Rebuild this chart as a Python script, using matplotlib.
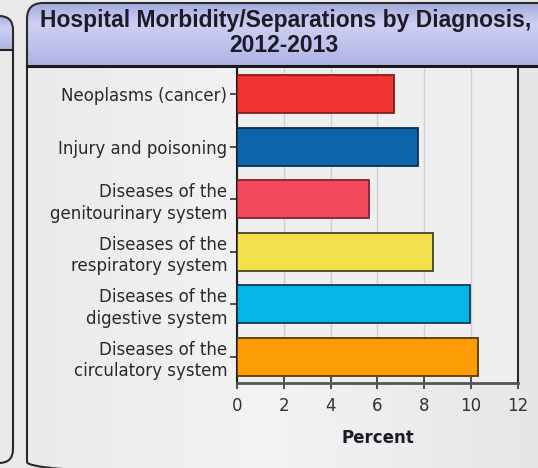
import numpy as np
import matplotlib.pyplot as plt
from matplotlib.colors import LinearSegmentedColormap
from matplotlib.patches import FancyBboxPatch

categories = ['Neoplasms (cancer)', 'Injury and poisoning',
              'Diseases of the\ngenitourinary system',
              'Diseases of the\nrespiratory system',
              'Diseases of the\ndigestive system',
              'Diseases of the\ncirculatory system']
percent = [6.7, 7.75, 5.65, 8.35, 9.95, 10.3]
x_ticks = [0, 2, 4, 6, 8, 10, 12]

bar_colors = ['#f23333', '#0e64a8', '#f2495f', '#f5e04e', '#05b5e6', '#fd9d05']
edge_colors = ['#8a1a1a', '#0a2f55', '#8a2030', '#4a4420', '#0a3a55', '#5a3a08']

W, H = 538, 468
fig = plt.figure(figsize=(W / 100, H / 100), dpi=100)

# background + panels drawn in pixel coordinates
bg = fig.add_axes([0, 0, 1, 1])
bg.set_xlim(0, W)
bg.set_ylim(H, 0)
bg.axis('off')
grad = np.linspace(0, 1, 256)[None, :]
bg_cmap = LinearSegmentedColormap.from_list('g', ['#e9e9e9', '#f3f3f3', '#e6e6e6'])
bg.imshow(grad, extent=[0, W, H, 0], aspect='auto', cmap=bg_cmap, zorder=0)

header_cmap = LinearSegmentedColormap.from_list('h', ['#a3a8dc', '#cdd0f2', '#bfc3ec', '#adb2e3'])
vgrad = np.linspace(0, 1, 256)[:, None]

# left (cut-off) panel
left_panel = FancyBboxPatch((-60, 16), 73, 447, boxstyle='round,pad=0,rounding_size=14',
                            facecolor='none', edgecolor='#2a2a2a', lw=1.5, zorder=3)
bg.add_patch(left_panel)
im = bg.imshow(vgrad, extent=[-60, 13, 50, 16], aspect='auto', cmap=header_cmap, zorder=1)
im.set_clip_path(left_panel)
bg.plot([0, 13], [50, 50], color='#222222', lw=1.5, zorder=3)

# main panel
panel = FancyBboxPatch((27, 3), 560, 475, boxstyle='round,pad=0,rounding_size=16',
                       facecolor='none', edgecolor='#2a2a2a', lw=1.5, zorder=3)
bg.add_patch(panel)
im = bg.imshow(vgrad, extent=[27, 600, 65, 3], aspect='auto', cmap=header_cmap, zorder=1)
im.set_clip_path(panel)
bg.plot([27, W], [66, 66], color='#1a1a1a', lw=2.2, zorder=3)

title_kw = dict(ha='center', va='center', fontsize=16.5, fontweight='bold',
                family='Liberation Sans', color='#1e1a28')
bg.text(286, 20, 'Hospital Morbidity/Separations by Diagnosis,', **title_kw)
bg.text(284, 46, '2012-2013', **title_kw)

# chart
ax = fig.add_axes([237 / W, 1 - 383 / H, 281 / W, 315 / H])
ax.set_facecolor('#efefef')
pos = np.arange(len(categories))
ax.barh(pos, percent, height=0.72, color=bar_colors, edgecolor=edge_colors, lw=1.3, zorder=3)
ax.set_ylim(len(categories) - 0.5, -0.5)
ax.set_xlim(0, 12)
ax.set_xticks(x_ticks)
ax.set_yticks(pos)
ax.set_yticklabels(categories, fontsize=12, color='#2a2a2a', linespacing=1.25)
ax.set_xticklabels([str(t) for t in x_ticks], fontsize=12, color='#333333')
ax.grid(axis='x', color='#cfcfcf', lw=1, zorder=0)
ax.tick_params(axis='y', length=5, width=1.2, color='#333333', pad=2)
ax.tick_params(axis='x', length=8, width=1.2, color='#333333', direction='inout', pad=6)
ax.spines['top'].set_visible(False)
ax.spines['left'].set_color('#1e1e1e')
ax.spines['left'].set_linewidth(1.5)
ax.spines['right'].set_color('#2a2a2a')
ax.spines['right'].set_linewidth(1.5)
ax.spines['bottom'].set_color('#555555')
ax.spines['bottom'].set_linewidth(2)
ax.set_xlabel('Percent', fontsize=12, fontweight='bold', color='#1e1a28', labelpad=10)

fig.savefig('out.png', dpi=100)
